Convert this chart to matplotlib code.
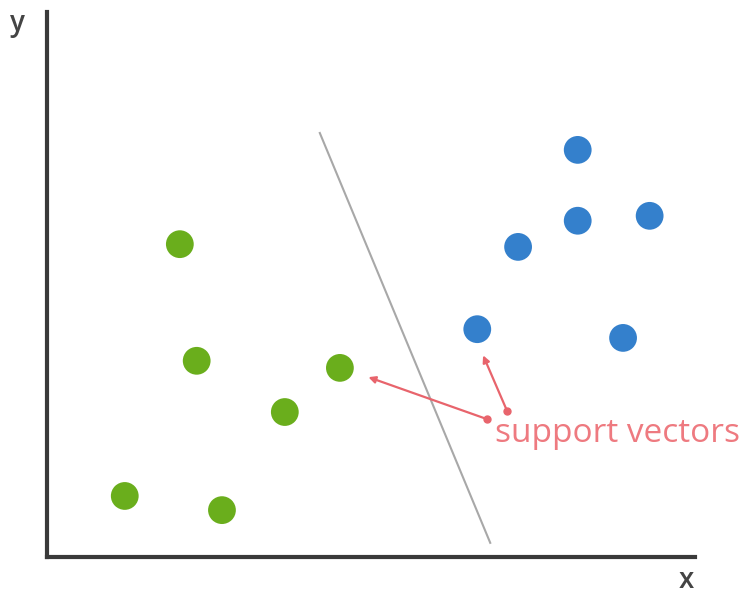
import matplotlib
matplotlib.use("Agg")
from matplotlib import pyplot

# class A (green) and class B (blue) points
green_x = [1.20, 2.70, 2.05, 2.31, 3.67, 4.52]
green_y = [1.12, 0.86, 5.74, 3.60, 2.66, 3.47]
blue_x = [6.64, 7.27, 8.19, 8.19, 9.30, 8.89]
blue_y = [4.18, 5.69, 7.47, 6.17, 6.26, 4.02]

# separating line
line_x = [4.21, 6.84]
line_y = [7.78, 0.26]

# support vector annotations: (tail, head)
arrow_tails = [(6.79, 2.53), (7.10, 2.68)]
arrow_heads = [(4.96, 3.30), (6.73, 3.70)]
label = "support vectors"

fig = pyplot.figure(figsize=(7.43, 5.93), dpi=100)
ax = fig.add_axes([47 / 743, 36 / 593, 648 / 743, 545 / 593])
ax.set_xlim(0, 10)
ax.set_ylim(0, 10)

ax.plot(line_x, line_y, color="#a8a8a8", lw=1.5, zorder=1)

ax.scatter(green_x, green_y, s=400, color="#6aae1c", edgecolors="none", zorder=3)
ax.scatter(blue_x, blue_y, s=400, color="#3480cc", edgecolors="none", zorder=3)

red = "#e8646c"
for (tx, ty), (hx, hy) in zip(arrow_tails, arrow_heads):
    ax.annotate("", xy=(hx, hy), xytext=(tx, ty),
                arrowprops=dict(arrowstyle="-|>", color=red, lw=1.6,
                                mutation_scale=10, shrinkA=0, shrinkB=0),
                zorder=2)
    ax.plot(tx, ty, "o", color=red, ms=5, zorder=2)

ax.text(6.92, 2.26, label, color="#ee7a80", fontsize=24,
        family="Open Sans", va="center", ha="left", clip_on=False)

for side in ["top", "right"]:
    ax.spines[side].set_visible(False)
for side in ["left", "bottom"]:
    ax.spines[side].set_color("#3a3a3a")
    ax.spines[side].set_linewidth(3)
ax.set_xticks([])
ax.set_yticks([])

fig.text(17 / 743, 1 - 24 / 593, "y", fontsize=20, color="#444444",
         family="Open Sans", weight="semibold", ha="center", va="center")
fig.text(686 / 743, 1 - 580 / 593, "x", fontsize=20, color="#444444",
         family="Open Sans", weight="semibold", ha="center", va="center")

fig.savefig("out.png", dpi=100, facecolor="white")
